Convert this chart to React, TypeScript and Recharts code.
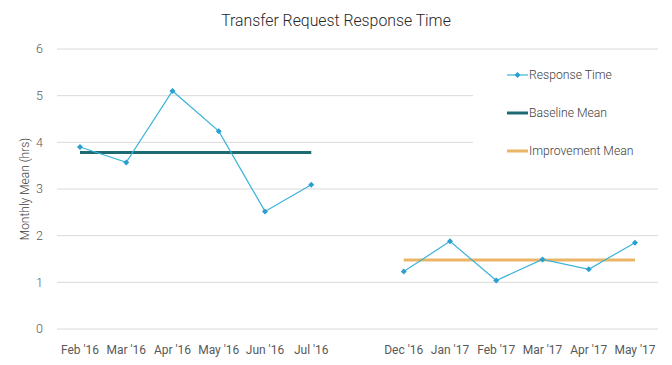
import React from 'react';
import { LineChart, Line, XAxis, YAxis, CartesianGrid } from 'recharts';

const categories = ["Feb '16", "Mar '16", "Apr '16", "May '16", "Jun '16", "Jul '16", "", "Dec '16", "Jan '17", "Feb '17", "Mar '17", "Apr '17", "May '17"];
const responseTime: (number | null)[] = [3.9, 3.57, 5.1, 4.24, 2.52, 3.09, null, 1.23, 1.88, 1.04, 1.49, 1.28, 1.85];
const baselineMean: (number | null)[] = [3.78, 3.78, 3.78, 3.78, 3.78, 3.78, null, null, null, null, null, null, null];
const improvementMean: (number | null)[] = [null, null, null, null, null, null, null, 1.48, 1.48, 1.48, 1.48, 1.48, 1.48];
const yTicks = [0, 1, 2, 3, 4, 5, 6];

const data = categories.map((c, i) => ({
  name: c,
  response: responseTime[i],
  baseline: baselineMean[i],
  improvement: improvementMean[i],
}));

const FONT = 'Roboto, "Noto Sans", sans-serif';
const C_RESP = '#3cb3d9';
const C_DOT = '#2a9fd0';
const C_BASE = '#1e6a72';
const C_IMP = '#ebb567';

const Diamond = (props: any) => {
  const { cx, cy, index } = props;
  if (cx == null || cy == null || props.value == null) return <g key={`d${index}`} />;
  const r = 3;
  return (
    <polygon
      key={`d${index}`}
      points={`${cx},${cy - r} ${cx + r},${cy} ${cx},${cy + r} ${cx - r},${cy}`}
      fill={C_DOT}
    />
  );
};

const legendItems = [
  { label: 'Response Time', color: C_RESP, width: 1.2, marker: true },
  { label: 'Baseline Mean', color: C_BASE, width: 3, marker: false },
  { label: 'Improvement Mean', color: C_IMP, width: 3, marker: false },
];

export default function App() {
  return (
    <div style={{ position: 'absolute', left: 0, top: 0, width: 672, height: 365, background: '#fff' }}>
      <div
        style={{
          position: 'absolute',
          left: 0,
          top: 11,
          width: 672,
          textAlign: 'center',
          fontFamily: FONT,
          fontWeight: 300,
          fontSize: 15.8,
          color: '#262626',
        }}
      >
        Transfer Request Response Time
      </div>
      <LineChart width={672} height={365} data={data} margin={{ top: 49, right: 14, bottom: 6, left: 0 }}>
        <CartesianGrid vertical={false} stroke="#d9d9d9" />
        <XAxis
          dataKey="name"
          interval={0}
          axisLine={false}
          tickLine={false}
          tickSize={0}
          tickMargin={16}
          height={30}
          padding={{ left: 23, right: 23 }}
          tick={{ fontFamily: FONT, fontSize: 12, fontWeight: 400, fill: '#595959' }}
        />
        <YAxis
          domain={[0, 6]}
          ticks={yTicks}
          width={57}
          axisLine={false}
          tickLine={false}
          tickSize={0}
          tickMargin={14}
          tick={{ fontFamily: FONT, fontSize: 12.5, fontWeight: 300, fill: '#595959' }}
          label={{
            content: () => (
              <text
                x={25}
                y={189}
                transform="rotate(-90 25 189)"
                textAnchor="middle"
                dominantBaseline="central"
                style={{ fontFamily: FONT, fontSize: 12, fontWeight: 300, fill: '#404040' }}
              >
                Monthly Mean (hrs)
              </text>
            ),
          }}
        />
        <Line
          dataKey="baseline"
          stroke={C_BASE}
          strokeWidth={3}
          dot={false}
          activeDot={false}
          isAnimationActive={false}
          type="linear"
        />
        <Line
          dataKey="improvement"
          stroke={C_IMP}
          strokeWidth={3}
          dot={false}
          activeDot={false}
          isAnimationActive={false}
          type="linear"
        />
        <Line
          dataKey="response"
          stroke={C_RESP}
          strokeWidth={1.2}
          dot={Diamond}
          activeDot={false}
          isAnimationActive={false}
          type="linear"
        />
      </LineChart>
      <div
        style={{
          position: 'absolute',
          left: 473,
          top: 55,
          width: 190,
          height: 122,
          background: '#fff',
        }}
      >
        {legendItems.map((it, i) => (
          <div
            key={it.label}
            style={{
              position: 'absolute',
              left: 34,
              top: 11 + i * 38,
              height: 18,
              display: 'flex',
              alignItems: 'center',
              fontFamily: FONT,
              fontWeight: 300,
              fontSize: 12.2,
              color: '#404040',
              whiteSpace: 'nowrap',
            }}
          >
            <svg width={21} height={10} style={{ marginRight: 1 }}>
              <line x1={0} y1={5} x2={21} y2={5} stroke={it.color} strokeWidth={it.width} />
              {it.marker && <polygon points="10.5,2 13.5,5 10.5,8 7.5,5" fill={C_DOT} />}
            </svg>
            {it.label}
          </div>
        ))}
      </div>
    </div>
  );
}
